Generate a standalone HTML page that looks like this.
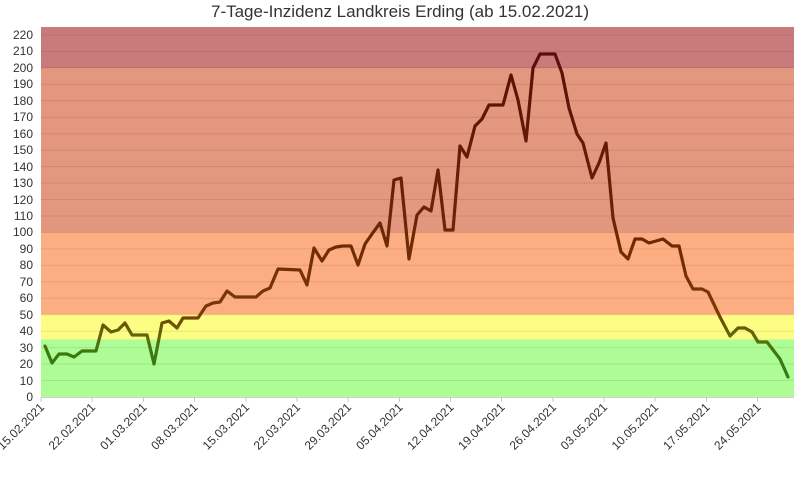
<!DOCTYPE html>
<html><head><meta charset="utf-8"><style>
body{margin:0;background:#fff;}
svg{display:block;font-family:"Liberation Sans",sans-serif;}
</style></head><body>
<svg width="800" height="492" viewBox="0 0 800 492">
<defs>
<linearGradient id="lg" gradientUnits="userSpaceOnUse" x1="0" y1="397" x2="0" y2="40">
<stop offset="0" stop-color="#2a7d12"/>
<stop offset="0.12" stop-color="#3a7a10"/>
<stop offset="0.17" stop-color="#5e6a08"/>
<stop offset="0.24" stop-color="#7a3a04"/>
<stop offset="0.5" stop-color="#6a2404"/>
<stop offset="1" stop-color="#5a0c08"/>
</linearGradient>
</defs>
<text x="400" y="17" text-anchor="middle" font-size="17" fill="#333">7-Tage-Inzidenz Landkreis Erding (ab 15.02.2021)</text>
<rect x="41" y="27" width="753" height="41" fill="#c97b7c"/>
<rect x="41" y="68" width="753" height="164.5" fill="#e3977f"/>
<rect x="41" y="232.5" width="753" height="82.2" fill="#fcae82"/>
<rect x="41" y="314.7" width="753" height="24.7" fill="#fdfd84"/>
<rect x="41" y="339.4" width="753" height="57.6" fill="#aefc96"/>
<g stroke="#000" stroke-opacity="0.09" stroke-width="1">
<line x1="41" x2="794" y1="380.5" y2="380.5"/><line x1="41" x2="794" y1="364" y2="364"/><line x1="41" x2="794" y1="347.6" y2="347.6"/><line x1="41" x2="794" y1="331.2" y2="331.2"/><line x1="41" x2="794" y1="314.7" y2="314.7"/><line x1="41" x2="794" y1="298.2" y2="298.2"/><line x1="41" x2="794" y1="281.8" y2="281.8"/><line x1="41" x2="794" y1="265.3" y2="265.3"/><line x1="41" x2="794" y1="248.9" y2="248.9"/><line x1="41" x2="794" y1="232.4" y2="232.4"/><line x1="41" x2="794" y1="216" y2="216"/><line x1="41" x2="794" y1="199.5" y2="199.5"/><line x1="41" x2="794" y1="183" y2="183"/><line x1="41" x2="794" y1="166.6" y2="166.6"/><line x1="41" x2="794" y1="150.1" y2="150.1"/><line x1="41" x2="794" y1="133.7" y2="133.7"/><line x1="41" x2="794" y1="117.2" y2="117.2"/><line x1="41" x2="794" y1="100.8" y2="100.8"/><line x1="41" x2="794" y1="84.3" y2="84.3"/><line x1="41" x2="794" y1="67.8" y2="67.8"/><line x1="41" x2="794" y1="51.4" y2="51.4"/><line x1="41" x2="794" y1="35" y2="35"/>
</g>
<line x1="41" x2="794" y1="397.5" y2="397.5" stroke="#d0d0d0"/>
<g font-size="12" fill="#333" text-anchor="end">
<text x="33" y="401">0</text><text x="33" y="385">10</text><text x="33" y="368">20</text><text x="33" y="352">30</text><text x="33" y="335">40</text><text x="33" y="319">50</text><text x="33" y="302">60</text><text x="33" y="286">70</text><text x="33" y="269">80</text><text x="33" y="253">90</text><text x="33" y="236">100</text><text x="33" y="220">110</text><text x="33" y="204">120</text><text x="33" y="187">130</text><text x="33" y="171">140</text><text x="33" y="154">150</text><text x="33" y="138">160</text><text x="33" y="121">170</text><text x="33" y="105">180</text><text x="33" y="88">190</text><text x="33" y="72">200</text><text x="33" y="55">210</text><text x="33" y="39">220</text>
</g>
<g stroke="#c8c8c8">
<line x1="41" x2="41" y1="397" y2="402"/><line x1="92" x2="92" y1="397" y2="402"/><line x1="143.5" x2="143.5" y1="397" y2="402"/><line x1="194.5" x2="194.5" y1="397" y2="402"/><line x1="246" x2="246" y1="397" y2="402"/><line x1="297" x2="297" y1="397" y2="402"/><line x1="348" x2="348" y1="397" y2="402"/><line x1="399.5" x2="399.5" y1="397" y2="402"/><line x1="450.5" x2="450.5" y1="397" y2="402"/><line x1="501.5" x2="501.5" y1="397" y2="402"/><line x1="553" x2="553" y1="397" y2="402"/><line x1="604" x2="604" y1="397" y2="402"/><line x1="655" x2="655" y1="397" y2="402"/><line x1="706.5" x2="706.5" y1="397" y2="402"/><line x1="757.5" x2="757.5" y1="397" y2="402"/>
</g>
<g font-size="12" fill="#333" text-anchor="end">
<text transform="translate(45,408) rotate(-45)">15.02.2021</text>
<text transform="translate(96,408) rotate(-45)">22.02.2021</text>
<text transform="translate(147.5,408) rotate(-45)">01.03.2021</text>
<text transform="translate(198.5,408) rotate(-45)">08.03.2021</text>
<text transform="translate(250,408) rotate(-45)">15.03.2021</text>
<text transform="translate(301,408) rotate(-45)">22.03.2021</text>
<text transform="translate(352,408) rotate(-45)">29.03.2021</text>
<text transform="translate(403.5,408) rotate(-45)">05.04.2021</text>
<text transform="translate(454.5,408) rotate(-45)">12.04.2021</text>
<text transform="translate(505.5,408) rotate(-45)">19.04.2021</text>
<text transform="translate(557,408) rotate(-45)">26.04.2021</text>
<text transform="translate(608,408) rotate(-45)">03.05.2021</text>
<text transform="translate(659,408) rotate(-45)">10.05.2021</text>
<text transform="translate(710.5,408) rotate(-45)">17.05.2021</text>
<text transform="translate(761.5,408) rotate(-45)">24.05.2021</text>
</g>
<polyline fill="none" stroke="url(#lg)" stroke-width="3.2" stroke-linejoin="round" stroke-linecap="round" points="45,346 52,363 59,354 67,354 74,357 82,351 96,351 103,325 111,332 118,330 125,323 132,335 147,335 154,364 162,323 169,321 177,328 183,318 198,318 206,306 213,303 220,302 227,291 235,297 256,297 263,291 270,288 278,269 300,270 307,285 314,248 322,261 329,250 336,247 343,246 351,246 358,265 365,244 372,234 380,223 387,246 394,180 401,178 409,259 417,215 424,207 431,211 438,170 445,230 453,230 460,146 467,157 475,126 482,119 489,105 503,105 511,75 518,100 526,141 533,68 540,54 555,54 562,73 569,108 577,134 583,143 592,178 599,163 606,143 613,218 621,252 628,259 635,239 642,239 649,243 663,239 672,246 679,246 686,276 693,289 702,289 708,292 720,317 730,336 738,328 745,328 752,332 758,342 767,342 780,359 788,377"/>
</svg>
</body></html>
